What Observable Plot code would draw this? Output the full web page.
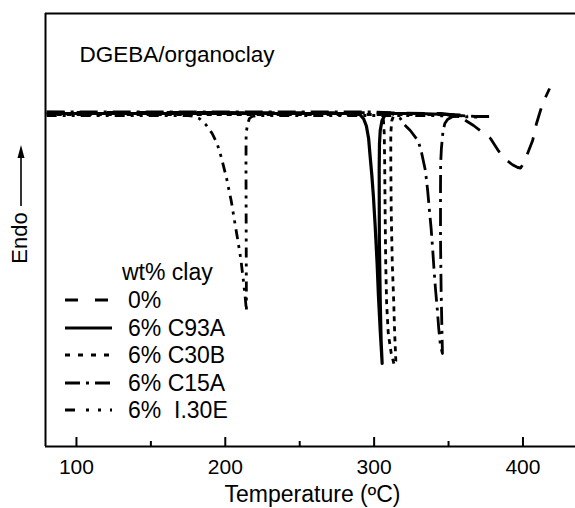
<!DOCTYPE html>
<html>
<head>
<meta charset="utf-8">
<script src="https://cdn.jsdelivr.net/npm/d3@7"></script>
<script src="https://cdn.jsdelivr.net/npm/@observablehq/plot@0.6"></script>
<style>
html, body { margin: 0; padding: 0; background: #fff; overflow: hidden; }
#chart { width: 575px; height: 508px; overflow: hidden; }
</style>
</head>
<body>
<div id="chart"></div>
<script>
const FONT = "'Liberation Sans', Arial, Helvetica, sans-serif";

// ---- data (temperature in °C, heat flow in arbitrary units, endo up) ----
const seriesNames = ["0%", "6% C93A", "6% C30B", "6% C15A", "6%  I.30E"];
const legendTitle = "wt% clay";
const majorTicks = [100, 200, 300, 400];
const minorTicks = [150, 250, 350];
const xDomain = [79.2, 435.3];
const yDomain = [-133.2, 40];

// 0 %
const temp0 = [80, 200, 300, 345, 355, 358.1, 362, 366.8, 372, 378.2, 383.6, 389.6, 393, 396.5, 398.4, 400.8, 403.1, 406.5, 409.1, 413.2, 417.9];
const flow0 = [0.5, 0.4, 0.3, 0, -0.6, -1.3, -3, -4.8, -7.2, -10, -15, -19, -20.5, -21.6, -21.8, -19.5, -16, -10.8, -4, 4, 10];

// 6 % C93A
const temp1 = [80, 250, 289, 291, 293, 294.8, 296.3, 297.3, 298.5, 299.5, 300.7, 302, 302.9, 304.1, 305.4, 304.7, 304.1, 303.5, 303.4, 303.6, 304.1, 305.3, 307.2, 310.5, 330, 358];
const flow1 = [0, 0, 0, -0.8, -2.2, -5, -10, -17, -25, -33, -45, -60, -73, -87, -100, -91, -75, -50, -22, -12, -6.8, -2.8, -0.8, 0, 0, -0.6];

// 6 % C30B
const temp2 = [80, 250, 300, 305, 306.2, 306.8, 307.1, 307.4, 307.8, 308.4, 309.5, 311.5, 313.5, 314.6, 313.8, 313.2, 312.2, 311.5, 311.2, 311.2, 311.8, 313, 316, 340, 363];
const flow2 = [-0.4, -0.4, -0.4, -0.4, -2, -8, -20, -40, -60, -76, -88, -96, -100.5, -99, -88, -76, -60, -40, -20, -8, -3, -1, -0.4, -0.4, -1];

// 6 % C15A
const temp3 = [80, 250, 300, 310.8, 314.2, 317.6, 319.6, 324.3, 329.7, 332, 334.5, 336, 337.2, 338.3, 339.3, 340.2, 341.2, 342.4, 343.4, 344.6, 345.9, 345.5, 345.0, 344.6, 344.6, 344.7, 345.2, 346.3, 347.5, 349.3, 352.7, 358, 368, 378];
const flow3 = [0.6, 0.6, 0.6, 0.3, -0.8, -2, -4, -6.8, -11, -16, -23, -31, -39, -46, -54, -62, -70, -78, -86, -93, -96, -85, -70, -50, -30, -20, -14, -7, -4, -2.4, -1.2, -0.8, -1.2, -1.2];

// 6 % I.30E
const temp4 = [80, 150, 175, 178, 182.5, 187, 191.2, 194.5, 197.3, 200.7, 204, 206.5, 208.5, 210.5, 212, 213.3, 214.2, 214.1, 214.0, 213.9, 214.0, 215, 216.2, 218, 221, 260, 300, 340, 370];
const flow4 = [-0.8, -0.8, -0.8, -1, -2, -4.5, -8, -12, -17.5, -25.5, -35, -44, -51, -58.5, -66, -73, -79, -60, -40, -20, -8, -4, -2, -1.2, -0.8, -0.8, -0.8, -0.8, -1.5];

const temps = [temp0, temp1, temp2, temp3, temp4];
const flows = [flow0, flow1, flow2, flow3, flow4];

// ---- styles ----
const curveDash = ["18,12", null, "5,5", "18,6,3,6", "10,6,3,6,3,6"];
const curveWidth = [2.8, 3.2, 2.8, 2.8, 2.8];
const legendDash = ["13,17", null, "5,8", "15,6,3,6", "10,11,3,9,3,9,3,20"];
const drawOrder = [0, 3, 4, 2, 1];

const rowsFor = i => temps[i].map((T, k) => ({series: seriesNames[i], T, v: flows[i][k]}));

const lineMarks = drawOrder.map(i =>
  Plot.line(rowsFor(i), {
    x: "T", y: "v",
    stroke: "black",
    strokeWidth: curveWidth[i],
    strokeDasharray: curveDash[i],
    strokeLinecap: "butt",
    strokeLinejoin: "round"
  })
);

const svg = Plot.plot({
  width: 575,
  height: 508,
  marginLeft: 45,
  marginRight: 0,
  marginTop: 13,
  marginBottom: 62,
  x: {domain: xDomain},
  y: {domain: yDomain, axis: null},
  style: {fontFamily: FONT, background: "white", color: "black", overflow: "visible"},
  marks: [
    ...lineMarks,
    Plot.ruleX([xDomain[0]], {stroke: "black", strokeWidth: 2}),
    Plot.ruleY([yDomain[0], yDomain[1]], {stroke: "black", strokeWidth: 2}),
    Plot.tickX(majorTicks, {x: d => d, insetTop: 424, strokeWidth: 2, stroke: "black"}),
    Plot.tickX(minorTicks, {x: d => d, insetTop: 428, strokeWidth: 2, stroke: "black"}),
    Plot.axisX(majorTicks, {tickSize: 0, tickPadding: 13, fontSize: 21, label: null, fill: "black"}),
    Plot.text(["Temperature (ºC)"], {frameAnchor: "bottom", lineAnchor: "middle", dx: 2, dy: 48, fontSize: 23, fill: "black"}),
    Plot.text(["DGEBA/organoclay"], {frameAnchor: "top-left", lineAnchor: "middle", dx: 34, dy: 41, fontSize: 22.5, textAnchor: "start", fill: "black"})
  ]
});

// ---- legend and y label (overlay inside the plot svg) ----
const g = d3.select(svg).append("g")
  .attr("font-family", FONT).attr("fill", "black").attr("text-anchor", "start");
g.append("text").attr("x", 122).attr("y", 272).attr("dy", "0.35em")
  .attr("font-size", 23).text(legendTitle);
const legendY = [300, 328, 355, 383, 410];
seriesNames.forEach((name, i) => {
  g.append("line").attr("x1", 65).attr("x2", i === 0 ? 110 : 112)
    .attr("y1", legendY[i]).attr("y2", legendY[i])
    .attr("stroke", "black").attr("stroke-width", 3)
    .attr("stroke-dasharray", legendDash[i]);
  g.append("text").attr("x", 128).attr("y", legendY[i]).attr("dy", "0.35em")
    .attr("font-size", 23).attr("xml:space", "preserve").style("white-space", "pre")
    .text(name);
});

// "Endo" with upward arrow
g.append("text").attr("transform", "translate(19,238) rotate(-90)")
  .attr("text-anchor", "middle").attr("dy", "0.35em").attr("font-size", 22).text("Endo");
g.append("line").attr("x1", 21).attr("x2", 21).attr("y1", 206).attr("y2", 154)
  .attr("stroke", "black").attr("stroke-width", 1.6);
g.append("path").attr("d", "M21,145 L17.5,158 L24.5,158 Z").attr("fill", "black");

document.getElementById("chart").appendChild(svg);
</script>
</body>
</html>
